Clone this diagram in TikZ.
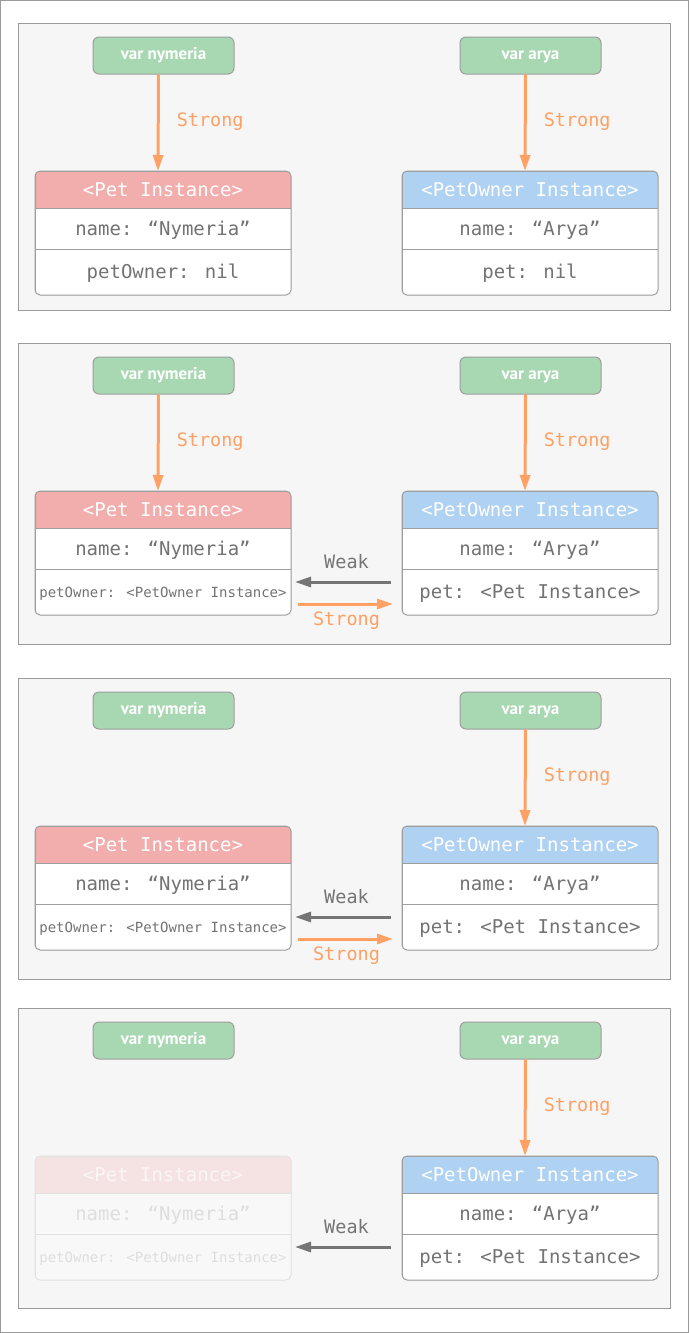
\documentclass[tikz,border=0pt]{standalone}
\usepackage{fontspec}
\setmainfont{PT Sans}
\newfontfamily\codefont{DejaVu Sans Mono}
\usetikzlibrary{positioning,arrows.meta}

\definecolor{panelbg}{HTML}{F6F6F6}
\definecolor{panelline}{HTML}{9B9B9B}
\definecolor{boxline}{HTML}{9E9E9E}
\definecolor{vargreen}{HTML}{A8D8B2}
\definecolor{petred}{HTML}{F2ADAD}
\definecolor{ownblue}{HTML}{AFD2F3}
\definecolor{strongorange}{HTML}{FFA064}
\definecolor{weakgray}{HTML}{757575}
\definecolor{codegray}{HTML}{737373}
\definecolor{ghostred}{HTML}{F5E3E3}
\definecolor{ghostwhite}{HTML}{FBF5F5}
\definecolor{ghostbg}{HTML}{F8F8F8}
\definecolor{ghosttext}{HTML}{DEDEDE}
\definecolor{ghostline}{HTML}{E2E2E2}

\begin{document}
\begin{tikzpicture}[x=1pt, y=-1pt, node distance=0pt,
    panel/.style={draw=panelline, fill=panelbg, line width=1pt},
    var node/.style={draw=boxline, fill=vargreen, line width=1pt, rounded corners=6pt,
                     minimum width=141pt, minimum height=37pt, inner sep=0pt,
                     text height=8pt, text depth=0pt,
                     text=white, font=\bfseries\fontsize{17}{20}\selectfont},
    box head/.style={minimum width=256pt, minimum height=37pt, inner sep=0pt, outer sep=0pt,
                     draw=boxline, line width=1pt, text=white,
                     text height=13.8pt, text depth=0pt,
                     font=\codefont\fontsize{19}{22}\selectfont},
    pet head/.style={box head, fill=petred},
    owner head/.style={box head, fill=ownblue},
    row/.style={box head, fill=white, text=codegray, minimum height=41pt},
    last row/.style={row, minimum height=46pt},
    tiny/.style={font=\codefont\fontsize{14}{16}\selectfont, text height=10.2pt},
    ghost head/.style={box head, fill=ghostred, draw=ghostline, text=ghostwhite},
    ghost row/.style={row, fill=ghostbg, draw=ghostline, text=ghosttext},
    box frame/.style={draw=boxline, line width=1pt, rounded corners=5pt},
    ghost frame/.style={box frame, draw=ghostline},
    link/.style={line width=3pt, -{Triangle[length=16pt,width=10pt]}},
    strong/.style={link, strongorange},
    weak/.style={link, weakgray},
    ref text/.style={inner sep=0pt, text height=13.5pt, text depth=0pt,
                     font=\codefont\fontsize{18.5}{22}\selectfont}]

  \useasboundingbox (0,0) rectangle (689,1333);
  \draw[panelline, fill=white] (0.5,0.5) rectangle (688.5,1332.5);

  % both pets unset
  \draw[panel] (18,23) rectangle (670,310);
  \node[var node] (nym1)  at (163.5,55.5) {var nymeria};
  \node[var node] (arya1) at (530.5,55.5) {var arya};
  \begin{scope}
    \clip[rounded corners=5pt] (35,171) rectangle (291,295);
    \node[pet head, anchor=north] (pet1) at (163,171) {<Pet Instance>};
    \node[row, below=of pet1] (pet1n) {name: “Nymeria”};
    \node[last row, below=of pet1n] (pet1p) {petOwner: nil};
  \end{scope}
  \draw[box frame] (pet1.north west) rectangle (pet1p.south east);
  \begin{scope}
    \clip[rounded corners=5pt] (402,171) rectangle (658,295);
    \node[owner head, anchor=north] (own1) at (530,171) {<PetOwner Instance>};
    \node[row, below=of own1] (own1n) {name: “Arya”};
    \node[last row, below=of own1n] (own1p) {pet: nil};
  \end{scope}
  \draw[box frame] (own1.north west) rectangle (own1p.south east);
  \draw[strong] ([xshift=-5pt]nym1.south) -- ([xshift=-5pt]pet1.north)
    node[midway, right=17pt, yshift=3pt, ref text, text=strongorange] {Strong};
  \draw[strong] ([xshift=-5pt]arya1.south) -- ([xshift=-5pt]own1.north)
    node[midway, right=17pt, yshift=3pt, ref text, text=strongorange] {Strong};

  % linked both ways
  \draw[panel] (18,343) rectangle (670,644);
  \node[var node] (nym2)  at (163.5,375.5) {var nymeria};
  \node[var node] (arya2) at (530.5,375.5) {var arya};
  \begin{scope}
    \clip[rounded corners=5pt] (35,491) rectangle (291,615);
    \node[pet head, anchor=north] (pet2) at (163,491) {<Pet Instance>};
    \node[row, below=of pet2] (pet2n) {name: “Nymeria”};
    \node[last row, tiny, below=of pet2n] (pet2p) {petOwner: <PetOwner Instance>};
  \end{scope}
  \draw[box frame] (pet2.north west) rectangle (pet2p.south east);
  \begin{scope}
    \clip[rounded corners=5pt] (402,491) rectangle (658,615);
    \node[owner head, anchor=north] (own2) at (530,491) {<PetOwner Instance>};
    \node[row, below=of own2] (own2n) {name: “Arya”};
    \node[last row, below=of own2n] (own2p) {pet: <Pet Instance>};
  \end{scope}
  \draw[box frame] (own2.north west) rectangle (own2p.south east);
  \draw[strong] ([xshift=-5pt]nym2.south) -- ([xshift=-5pt]pet2.north)
    node[midway, right=17pt, yshift=3pt, ref text, text=strongorange] {Strong};
  \draw[strong] ([xshift=-5pt]arya2.south) -- ([xshift=-5pt]own2.north)
    node[midway, right=17pt, yshift=3pt, ref text, text=strongorange] {Strong};
  \draw[weak, shorten <=11pt, shorten >=4pt] ([yshift=10pt]own2p.west) -- ([yshift=10pt]pet2p.east)
    node[midway, yshift=20.5pt, ref text, text=weakgray] {Weak};
  \draw[strong, shorten <=7pt, shorten >=9pt] ([yshift=-12pt]pet2p.east) -- ([yshift=-12pt]own2p.west)
    node[midway, yshift=-15pt, ref text, text=strongorange] {Strong};

  % nymeria released
  \draw[panel] (18,678) rectangle (670,979);
  \node[var node] (nym3)  at (163.5,710.5) {var nymeria};
  \node[var node] (arya3) at (530.5,710.5) {var arya};
  \begin{scope}
    \clip[rounded corners=5pt] (35,826) rectangle (291,950);
    \node[pet head, anchor=north] (pet3) at (163,826) {<Pet Instance>};
    \node[row, below=of pet3] (pet3n) {name: “Nymeria”};
    \node[last row, tiny, below=of pet3n] (pet3p) {petOwner: <PetOwner Instance>};
  \end{scope}
  \draw[box frame] (pet3.north west) rectangle (pet3p.south east);
  \begin{scope}
    \clip[rounded corners=5pt] (402,826) rectangle (658,950);
    \node[owner head, anchor=north] (own3) at (530,826) {<PetOwner Instance>};
    \node[row, below=of own3] (own3n) {name: “Arya”};
    \node[last row, below=of own3n] (own3p) {pet: <Pet Instance>};
  \end{scope}
  \draw[box frame] (own3.north west) rectangle (own3p.south east);
  \draw[strong] ([xshift=-5pt]arya3.south) -- ([xshift=-5pt]own3.north)
    node[midway, right=17pt, yshift=3pt, ref text, text=strongorange] {Strong};
  \draw[weak, shorten <=11pt, shorten >=4pt] ([yshift=10pt]own3p.west) -- ([yshift=10pt]pet3p.east)
    node[midway, yshift=20.5pt, ref text, text=weakgray] {Weak};
  \draw[strong, shorten <=7pt, shorten >=9pt] ([yshift=-12pt]pet3p.east) -- ([yshift=-12pt]own3p.west)
    node[midway, yshift=-15pt, ref text, text=strongorange] {Strong};

  % pet instance freed
  \draw[panel] (18,1008) rectangle (670,1308);
  \node[var node] (nym4)  at (163.5,1040.5) {var nymeria};
  \node[var node] (arya4) at (530.5,1040.5) {var arya};
  \begin{scope}
    \clip[rounded corners=5pt] (35,1156) rectangle (291,1280);
    \node[ghost head, anchor=north] (pet4) at (163,1156) {<Pet Instance>};
    \node[ghost row, below=of pet4] (pet4n) {name: “Nymeria”};
    \node[ghost row, minimum height=46pt, tiny, below=of pet4n] (pet4p) {petOwner: <PetOwner Instance>};
  \end{scope}
  \draw[ghost frame] (pet4.north west) rectangle (pet4p.south east);
  \begin{scope}
    \clip[rounded corners=5pt] (402,1156) rectangle (658,1280);
    \node[owner head, anchor=north] (own4) at (530,1156) {<PetOwner Instance>};
    \node[row, below=of own4] (own4n) {name: “Arya”};
    \node[last row, below=of own4n] (own4p) {pet: <Pet Instance>};
  \end{scope}
  \draw[box frame] (own4.north west) rectangle (own4p.south east);
  \draw[strong] ([xshift=-5pt]arya4.south) -- ([xshift=-5pt]own4.north)
    node[midway, right=17pt, yshift=3pt, ref text, text=strongorange] {Strong};
  \draw[weak, shorten <=11pt, shorten >=4pt] ([yshift=10pt]own4p.west) -- ([yshift=10pt]pet4p.east)
    node[midway, yshift=20.5pt, ref text, text=weakgray] {Weak};
\end{tikzpicture}
\end{document}
